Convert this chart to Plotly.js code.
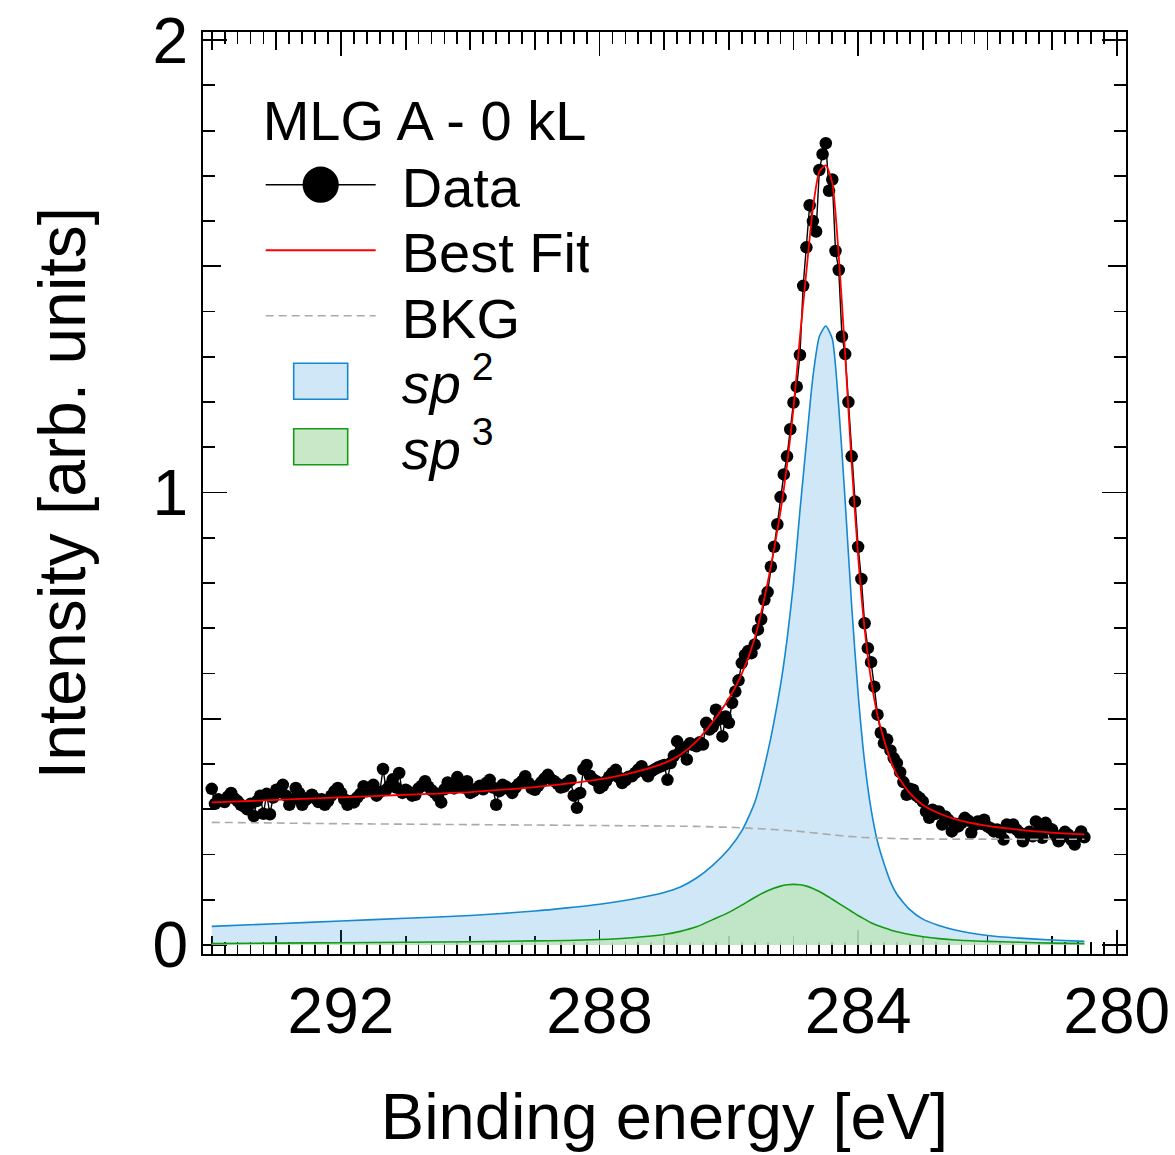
<!DOCTYPE html>
<html>
<head>
<meta charset="utf-8">
<script src="https://cdn.plot.ly/plotly-3.0.1.min.js"></script>
<style>
  html, body { margin: 0; padding: 0; background: #fff; }
  #chart { width: 1175px; height: 1155px; }
</style>
</head>
<body>
<div id="chart"></div>
<script>
// ---------- measured data (binding energy, eV) ----------
const energyData = [
  294.00,293.95,293.90,293.85,293.80,293.75,293.70,293.65,293.60,293.55,293.50,293.45,293.40,293.35,293.30,293.25,293.20,293.15,293.10,293.05,
  293.00,292.95,292.90,292.85,292.80,292.75,292.70,292.65,292.60,292.55,292.50,292.45,292.40,292.35,292.30,292.25,292.20,292.15,292.10,292.05,
  292.00,291.95,291.90,291.85,291.80,291.75,291.70,291.65,291.60,291.55,291.50,291.45,291.40,291.35,291.30,291.25,291.20,291.15,291.10,291.05,
  291.00,290.95,290.90,290.85,290.80,290.75,290.70,290.65,290.60,290.55,290.50,290.45,290.40,290.35,290.30,290.25,290.20,290.15,290.10,290.05,
  290.00,289.95,289.90,289.85,289.80,289.75,289.70,289.65,289.60,289.55,289.50,289.45,289.40,289.35,289.30,289.25,289.20,289.15,289.10,289.05,
  289.00,288.95,288.90,288.85,288.80,288.75,288.70,288.65,288.60,288.55,288.50,288.45,288.40,288.35,288.30,288.25,288.20,288.15,288.10,288.05,
  288.00,287.95,287.90,287.85,287.80,287.75,287.70,287.65,287.60,287.55,287.50,287.45,287.40,287.35,287.30,287.25,287.20,287.15,287.10,287.05,
  287.00,286.95,286.90,286.85,286.80,286.75,286.70,286.65,286.60,286.55,286.50,286.45,286.40,286.35,286.30,286.25,286.20,286.15,286.10,286.05,
  286.00,285.95,285.90,285.85,285.80,285.75,285.70,285.65,285.60,285.55,285.50,285.45,285.40,285.35,285.30,285.25,285.20,285.15,285.10,285.05,
  285.00,284.95,284.90,284.85,284.80,284.75,284.70,284.65,284.60,284.55,284.50,284.45,284.40,284.35,284.30,284.25,284.20,
  284.15,284.10,284.05,284.00,283.95,283.90,283.85,283.80,283.75,283.70,283.65,283.60,283.55,283.50,283.45,283.40,283.35,283.30,283.25,283.20,
  283.15,283.10,283.05,283.00,282.95,282.90,282.85,282.80,282.75,282.70,282.65,282.60,282.55,282.50,282.45,282.40,282.35,282.30,282.25,282.20,
  282.15,282.10,282.05,282.00,281.95,281.90,281.85,281.80,281.75,281.70,281.65,281.60,281.55,281.50,281.45,281.40,281.35,281.30,281.25,281.20,
  281.15,281.10,281.05,281.00,280.95,280.90,280.85,280.80,280.75,280.70,280.65,280.60,280.55,280.50
];
const intensityData = [
  0.345,0.312,0.322,0.318,0.316,0.328,0.336,0.324,0.318,0.310,0.306,0.300,0.312,0.285,0.318,0.330,0.290,0.334,0.289,0.326,
  0.343,0.338,0.354,0.330,0.310,0.322,0.347,0.336,0.310,0.320,0.326,0.332,0.324,0.316,0.322,0.310,0.318,0.330,0.340,0.347,
  0.336,0.322,0.310,0.318,0.315,0.326,0.334,0.351,0.340,0.346,0.354,0.330,0.338,0.389,0.343,0.352,0.366,0.348,0.380,0.336,
  0.343,0.338,0.330,0.332,0.346,0.352,0.362,0.350,0.342,0.336,0.328,0.315,0.344,0.359,0.352,0.346,0.371,0.356,0.348,0.362,
  0.336,0.340,0.346,0.352,0.344,0.358,0.365,0.348,0.310,0.340,0.354,0.350,0.344,0.336,0.348,0.356,0.362,0.373,0.358,0.346,
  0.343,0.352,0.360,0.368,0.376,0.366,0.362,0.356,0.348,0.350,0.358,0.364,0.330,0.303,0.336,0.388,0.398,0.374,0.366,0.362,
  0.347,0.352,0.362,0.372,0.380,0.387,0.370,0.358,0.364,0.372,0.373,0.380,0.388,0.395,0.382,0.373,0.384,0.388,0.392,0.395,
  0.398,0.365,0.402,0.418,0.450,0.428,0.436,0.410,0.446,0.442,0.439,0.448,0.443,0.491,0.476,0.482,0.520,0.498,0.461,0.505,
  0.491,0.535,0.560,0.585,0.623,0.641,0.650,0.645,0.664,0.697,0.720,0.763,0.780,0.836,0.880,0.930,0.990,1.040,1.080,1.140,
  1.199,1.234,1.304,1.457,1.542,1.635,1.600,1.577,1.713,1.748,1.772,1.667,1.692,1.534,1.492,1.345,1.306,
  1.200,1.080,0.980,0.880,0.809,0.711,0.656,0.625,0.571,0.509,0.469,0.446,0.454,0.430,0.413,0.402,0.382,0.360,0.332,0.345,
  0.343,0.330,0.325,0.317,0.295,0.281,0.299,0.290,0.295,0.266,0.284,0.276,0.251,0.268,0.262,0.270,0.281,0.275,0.248,0.265,
  0.273,0.268,0.277,0.262,0.258,0.251,0.255,0.248,0.233,0.266,0.260,0.266,0.255,0.248,0.229,0.244,0.250,0.240,0.273,0.250,
  0.237,0.270,0.258,0.255,0.242,0.229,0.238,0.250,0.244,0.232,0.222,0.240,0.251,0.238
];

// ---------- fit components ----------
const energyFit = [294, 293, 292, 291, 290, 289, 288.5, 288, 287.5, 287, 286.75, 286.5, 286.25, 286, 285.8, 285.6, 285.4, 285.2, 285.1, 285.0,
  284.9, 284.8, 284.7, 284.6, 284.5, 284.4, 284.3, 284.2, 284.1, 284.0, 283.9, 283.8, 283.7, 283.6, 283.5, 283.4, 283.2, 283.0, 282.75, 282.5,
  282.0, 281.5, 281.0, 280.5];
const bestFit = [0.315, 0.3205, 0.326, 0.332, 0.338, 0.349, 0.3565, 0.366, 0.3805, 0.402, 0.4205, 0.450, 0.493, 0.544, 0.599, 0.6775, 0.801, 0.959, 1.061, 1.186,
  1.344, 1.4895, 1.628, 1.7095, 1.723, 1.6845, 1.524, 1.3035, 1.0635, 0.8585, 0.6995, 0.586, 0.5075, 0.454, 0.4085, 0.376, 0.3355, 0.3095, 0.291, 0.278,
  0.263, 0.2545, 0.2485, 0.2445];
const background = [0.271, 0.2695, 0.268, 0.267, 0.266, 0.265, 0.2645, 0.264, 0.2635, 0.263, 0.2625, 0.262, 0.261, 0.260, 0.259, 0.2575, 0.256, 0.254, 0.253, 0.252,
  0.251, 0.2495, 0.248, 0.2465, 0.245, 0.2435, 0.242, 0.2405, 0.2395, 0.2385, 0.2375, 0.237, 0.2365, 0.236, 0.2355, 0.235, 0.2345, 0.2345, 0.234, 0.234,
  0.234, 0.2335, 0.2335, 0.2335];
const sp2Component = [0.041, 0.047, 0.053, 0.059, 0.065, 0.075, 0.082, 0.090, 0.101, 0.116, 0.128, 0.148, 0.176, 0.212, 0.252, 0.315, 0.425, 0.575, 0.675, 0.800,
  0.960, 1.110, 1.255, 1.345, 1.368, 1.340, 1.190, 0.980, 0.750, 0.555, 0.405, 0.300, 0.228, 0.180, 0.140, 0.112, 0.078, 0.057, 0.043, 0.033,
  0.021, 0.015, 0.011, 0.008];
const sp3Component = [0.003, 0.004, 0.005, 0.006, 0.007, 0.009, 0.010, 0.012, 0.016, 0.023, 0.030, 0.040, 0.056, 0.072, 0.088, 0.105, 0.120, 0.130, 0.133, 0.134,
  0.133, 0.130, 0.125, 0.118, 0.110, 0.101, 0.092, 0.083, 0.074, 0.065, 0.057, 0.049, 0.043, 0.038, 0.033, 0.029, 0.023, 0.018, 0.014, 0.011,
  0.008, 0.006, 0.004, 0.003];

const seriesNames = ['Data', 'Best Fit', 'BKG', '<i>sp</i><sup> 2</sup>', '<i>sp</i><sup> 3</sup>'];
const legendTitle = 'MLG A - 0 kL';
const xTitle = 'Binding energy [eV]';
const yTitle = 'Intensity [arb. units]';

const FONT = '"Liberation Sans", Arial, Helvetica, sans-serif';
const X_RANGE = [294.135, 279.856];
const Y_RANGE = [-0.02, 2.018];

const traces = [
  { x: energyFit, y: sp2Component, name: seriesNames[3], type: 'scatter', mode: 'lines',
    line: { color: '#1588d0', width: 1.6, shape: 'spline', smoothing: 0.6 },
    fill: 'tozeroy', fillcolor: 'rgba(38,146,212,0.22)', legendrank: 4 },
  { x: energyFit, y: sp3Component, name: seriesNames[4], type: 'scatter', mode: 'lines',
    line: { color: '#159a15', width: 1.6, shape: 'spline', smoothing: 0.6 },
    fill: 'tozeroy', fillcolor: 'rgba(190,228,190,0.85)', legendrank: 5 },
  { x: energyData, y: intensityData, name: seriesNames[0], type: 'scatter', mode: 'lines+markers',
    line: { color: '#000', width: 1.4 }, marker: { color: '#000', size: 12.5 }, legendrank: 1 },
  { x: energyFit, y: background, name: seriesNames[2], type: 'scatter', mode: 'lines',
    line: { color: '#aaaaaa', width: 1.6, dash: '8px,5px', shape: 'spline', smoothing: 0.6 }, legendrank: 3 },
  { x: energyFit, y: bestFit, name: seriesNames[1], type: 'scatter', mode: 'lines',
    line: { color: '#ff0000', width: 1.8, shape: 'spline', smoothing: 0.6 }, legendrank: 2 },
  { x: [], y: [], xaxis: 'x2', yaxis: 'y2', showlegend: false, hoverinfo: 'skip' }
];

const tickCommon = { showgrid: false, zeroline: false, ticks: 'inside', tickcolor: '#000', tickwidth: 1.8 };

const layout = {
  width: 1175, height: 1155,
  margin: { l: 203, r: 49, t: 32, b: 201 },
  paper_bgcolor: '#fff', plot_bgcolor: '#fff',
  font: { family: FONT, color: '#000' },
  showlegend: true,
  legend: {
    x: 0.0625, y: 0.962, xanchor: 'left', yanchor: 'top',
    bgcolor: 'rgba(0,0,0,0)', borderwidth: 0,
    font: { family: FONT, size: 56, color: '#000' },
    itemwidth: 110, itemsizing: 'trace', tracegroupgap: 0,
    title: { text: legendTitle, font: { family: FONT, size: 56, color: '#000' } }
  },
  xaxis: Object.assign({}, tickCommon, {
    range: X_RANGE, autorange: false, showline: true, linecolor: '#000', linewidth: 2, mirror: 'ticks',
    tickmode: 'linear', tick0: 280, dtick: 4, ticklen: 24,
    tickfont: { family: FONT, size: 64, color: '#000' },
    minor: { ticks: 'inside', tickmode: 'linear', tick0: 280, dtick: 0.2, ticklen: 12, tickwidth: 1.8, tickcolor: '#000', showgrid: false },
    title: { text: xTitle, font: { family: FONT, size: 65, color: '#000' }, standoff: 48 },
    layer: 'below traces'
  }),
  xaxis2: Object.assign({}, tickCommon, {
    overlaying: 'x', anchor: 'y', side: 'bottom',
    range: X_RANGE, autorange: false, showline: true, linecolor: '#000', linewidth: 2, mirror: 'ticks',
    tickmode: 'linear', tick0: 280, dtick: 1, ticklen: 18, showticklabels: false,
    layer: 'below traces'
  }),
  yaxis: Object.assign({}, tickCommon, {
    range: Y_RANGE, autorange: false, showline: true, linecolor: '#000', linewidth: 2, mirror: 'ticks',
    tickmode: 'linear', tick0: 0, dtick: 1, ticklen: 24,
    tickfont: { family: FONT, size: 64, color: '#000' },
    minor: { ticks: 'inside', tickmode: 'linear', tick0: 0, dtick: 0.1, ticklen: 12, tickwidth: 1.8, tickcolor: '#000', showgrid: false },
    title: { text: yTitle, font: { family: FONT, size: 66, color: '#000' }, standoff: 46 },
    layer: 'below traces'
  }),
  yaxis2: Object.assign({}, tickCommon, {
    overlaying: 'y', anchor: 'x', side: 'left',
    range: Y_RANGE, autorange: false, showline: true, linecolor: '#000', linewidth: 2, mirror: 'ticks',
    tickmode: 'linear', tick0: 0, dtick: 0.5, ticklen: 18, showticklabels: false,
    layer: 'below traces'
  })
};

// Legend look-alike tweaks: wider symbols, larger marker, boxed fills, tighter rows
const ROW_STEP = 65.5;
const FIRST_ROW_SHIFT = 2;
const TEXT_SHIFT = 21;

function restyleLegendSymbols(gd) {
  const items = Array.prototype.slice.call(gd.querySelectorAll('.legend .traces'));
  let y0 = null;
  items.forEach(function (item, i) {
    const tr = item.getAttribute('transform') || '';
    const m = tr.match(/translate\(\s*([-\d.e]+)[ ,]+([-\d.e]+)\s*\)/);
    if (m) {
      const tx = parseFloat(m[1]);
      const ty = parseFloat(m[2]);
      if (y0 === null) { y0 = ty + FIRST_ROW_SHIFT; }
      item.setAttribute('transform', 'translate(' + tx + ',' + (y0 + i * ROW_STEP) + ')');
    }
    const txt = item.querySelector('.legendtext');
    if (txt) {
      const ox = parseFloat(txt.getAttribute('x') || '0');
      txt.setAttribute('x', ox + TEXT_SHIFT);
      txt.querySelectorAll('tspan[x]').forEach(function (ts) {
        ts.setAttribute('x', parseFloat(ts.getAttribute('x')) + TEXT_SHIFT);
      });
    }
    const label = txt ? txt.textContent : '';
    if (label === 'Data') {
      const pt = item.querySelector('.legendpoints path.scatterpts');
      if (pt) {
        const t = pt.getAttribute('transform') || '';
        pt.setAttribute('transform', t + ' scale(2.9)');
      }
    } else if (label.indexOf('sp') === 0) {
      const box = 'M33,-18h54v36h-54Z';
      const f = item.querySelector('.legendfill path');
      if (f) { f.setAttribute('d', box); }
      const l = item.querySelector('.legendlines path');
      if (l) { l.setAttribute('d', box); l.style.fill = 'none'; }
    }
  });
}

Plotly.newPlot('chart', traces, layout, { staticPlot: true }).then(restyleLegendSymbols);
</script>
</body>
</html>
